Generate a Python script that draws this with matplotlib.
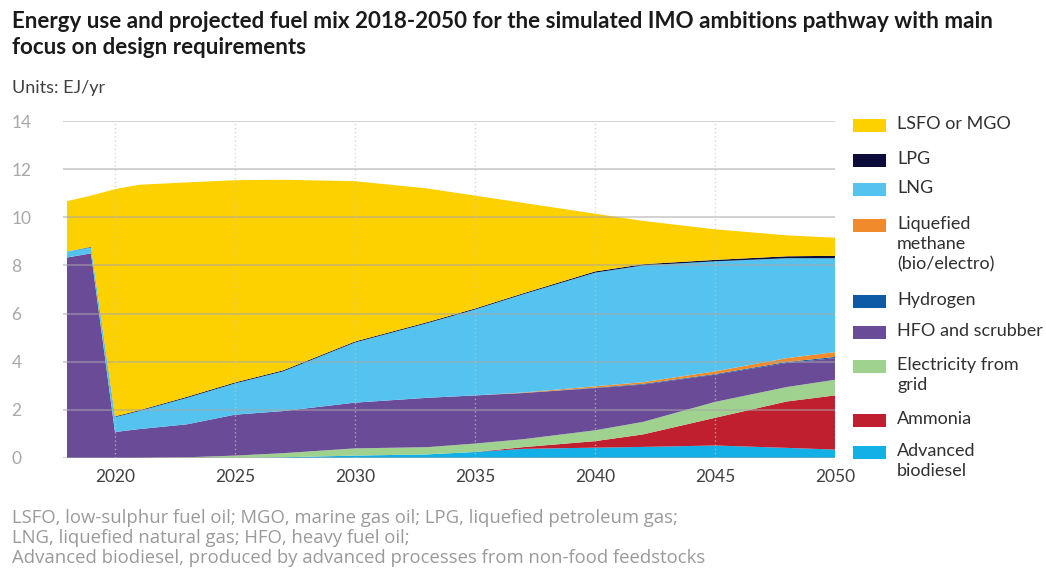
import matplotlib.pyplot as plt
from matplotlib.patches import Rectangle

# years and layer thicknesses (EJ/yr)
years = [2018, 2019, 2020, 2021, 2023, 2025, 2027, 2030, 2033, 2035, 2037, 2040, 2042, 2045, 2048, 2050]

biodiesel = [0, 0, 0, 0, 0, 0, 0.03, 0.10, 0.15, 0.25, 0.38, 0.43, 0.46, 0.52, 0.42, 0.35]
ammonia = [0, 0, 0, 0, 0, 0, 0, 0, 0, 0, 0.07, 0.27, 0.52, 1.15, 1.93, 2.25]
electricity = [0, 0, 0, 0, 0.03, 0.10, 0.17, 0.30, 0.30, 0.35, 0.33, 0.45, 0.52, 0.66, 0.60, 0.65]
hfo = [8.33, 8.50, 1.08, 1.20, 1.37, 1.70, 1.75, 1.90, 2.05, 2.00, 1.92, 1.75, 1.55, 1.13, 1.00, 0.90]
hydrogen = [0, 0, 0, 0, 0, 0, 0, 0, 0, 0, 0, 0.02, 0.03, 0.03, 0.04, 0.05]
methane = [0, 0, 0, 0, 0, 0, 0, 0, 0, 0, 0.02, 0.06, 0.07, 0.11, 0.16, 0.20]
lng = [0.25, 0.25, 0.62, 0.75, 1.10, 1.30, 1.65, 2.50, 3.10, 3.57, 4.08, 4.72, 4.85, 4.57, 4.15, 3.90]
lpg = [0, 0.02, 0.03, 0.03, 0.04, 0.04, 0.04, 0.04, 0.04, 0.04, 0.04, 0.05, 0.05, 0.06, 0.08, 0.10]
lsfo = [2.09, 2.13, 9.44, 9.37, 8.91, 8.40, 7.92, 6.66, 5.56, 4.69, 3.76, 2.40, 1.80, 1.27, 0.87, 0.75]

series = [biodiesel, ammonia, electricity, hfo, hydrogen, methane, lng, lpg, lsfo]
colors = ['#12b0e6', '#c01f2f', '#9fd18f', '#6a4b98', '#0d5aa7', '#f08a2a', '#54c3f0', '#0c0c3a', '#fdd000']

legend_labels = ['LSFO or MGO', 'LPG', 'LNG', 'Liquefied\nmethane\n(bio/electro)', 'Hydrogen',
                 'HFO and scrubber', 'Electricity from\ngrid', 'Ammonia', 'Advanced\nbiodiesel']
legend_colors = ['#fdd000', '#0c0c3a', '#54c3f0', '#f08a2a', '#0d5aa7', '#6a4b98', '#9fd18f', '#c01f2f', '#12b0e6']

yticks = [0, 2, 4, 6, 8, 10, 12, 14]
xticks = [2020, 2025, 2030, 2035, 2040, 2045, 2050]

plt.rcParams['font.family'] = ['Lato', 'DejaVu Sans']

W, H = 1046, 569
fig = plt.figure(figsize=(W / 100, H / 100), dpi=100)
ax = fig.add_axes([63 / W, 111 / H, 772 / W, 337 / H])

ax.stackplot(years, *series, colors=colors, linewidth=0)

# grid drawn over the areas, semi-transparent like the original
for y in yticks:
    ax.axhline(y, color='#a8a8a8', lw=1.2, alpha=0.6, zorder=5)
for x in xticks:
    ax.axvline(x, color='#c8c8c8', lw=1, ls=(0, (1, 2)), alpha=0.7, zorder=5)

ax.set_xlim(2018 - 4 / 24, 2050)
ax.set_ylim(0, 14)
for s in ax.spines.values():
    s.set_visible(False)

ax.set_yticks(yticks)
ax.set_yticklabels([str(v) for v in yticks], color='#a8a8a8', fontsize=12.5, ha='left')
ax.tick_params(axis='y', length=0, pad=37)
ax.set_xticks(xticks)
ax.set_xticklabels([str(v) for v in xticks], color='#404040', fontsize=12.5)
ax.tick_params(axis='x', length=0, pad=8)

# titles and notes
fig.text(12 / W, 1 - 21 / H, 'Energy use and projected fuel mix 2018-2050 for the simulated IMO ambitions pathway with main',
         fontsize=16.1, fontweight='bold', color='#1a1a1a', va='center')
fig.text(12 / W, 1 - 47 / H, 'focus on design requirements',
         fontsize=16.1, fontweight='bold', color='#1a1a1a', va='center')
fig.text(12 / W, 1 - 88 / H, 'Units: EJ/yr', fontsize=13, color='#404040', va='center')

notes = ['LSFO, low-sulphur fuel oil; MGO, marine gas oil; LPG, liquefied petroleum gas;',
         'LNG, liquefied natural gas; HFO, heavy fuel oil;',
         'Advanced biodiesel, produced by advanced processes from non-food feedstocks']
for i, line in enumerate(notes):
    fig.text(12 / W, 1 - (518 + 20 * i) / H, line, fontsize=13.3, color='#9a9a9a', va='center',
             family='Open Sans')

# legend built by hand to keep the original's uneven spacing
legend_y = [126, 161, 190, 226, 302, 333, 367, 421, 453]
for lab, col, yy in zip(legend_labels, legend_colors, legend_y):
    fig.add_artist(Rectangle((853 / W, 1 - (yy + 6) / H), 33 / W, 13 / H,
                             facecolor=col, edgecolor='none', transform=fig.transFigure))
    fig.text(897 / W, 1 - (yy - 10) / H, lab, fontsize=13, color='#303030',
             va='top', linespacing=1.3)

fig.savefig('out.png', dpi=100)
